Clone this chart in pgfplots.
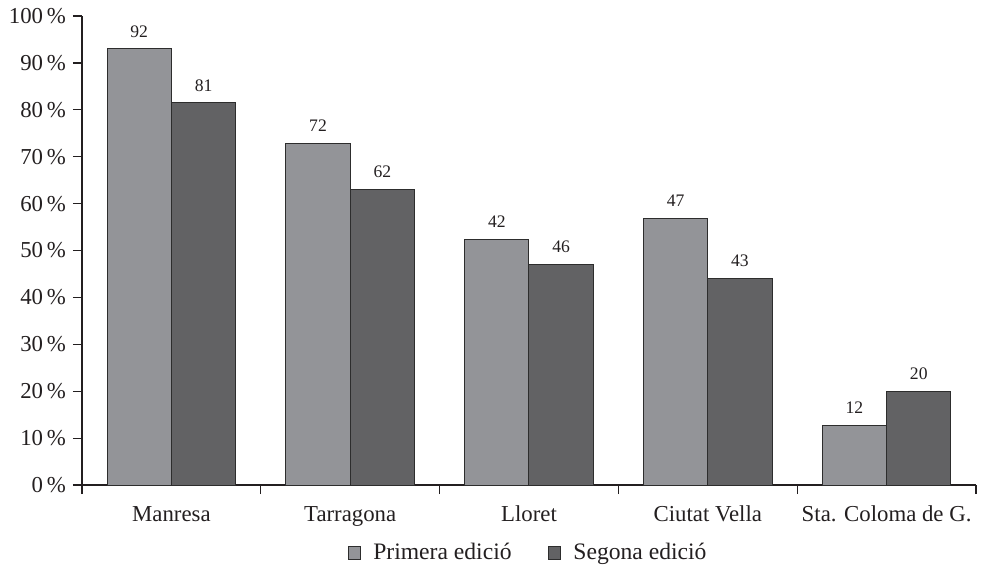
\documentclass[border=0pt]{standalone}
\usepackage{pgfplots}
\pgfplotsset{compat=1.18}
\usepackage{fontspec}
\setmainfont{Liberation Serif}
\definecolor{lightbar}{RGB}{147,148,152}
\definecolor{darkbar}{RGB}{98,98,100}
\definecolor{edge}{RGB}{45,45,45}
\definecolor{txt}{RGB}{35,31,32}
\begin{document}
\begin{tikzpicture}
\useasboundingbox (-41pt,-45pt) rectangle (450pt,242.5pt);
\begin{axis}[
  at={(0,0)}, anchor=south west,
  width=447pt, height=234.5pt, scale only axis,
  xmin=-0.5, xmax=4.5, ymin=0, ymax=100,
  axis x line*=bottom, axis y line*=left,
  axis line style={-, draw=txt, line width=0.6pt},
  tick align=outside, major tick length=4.5pt,
  tick style={draw=txt, line width=0.6pt},
  ytick={0,10,...,100},
  yticklabel={\pgfmathprintnumber{\tick}\,\%},
  /pgf/number format/assume math mode=true,
  ticklabel style={font=\fontsize{11.4}{13}\selectfont, text=txt},
  xtick={-0.5,0.5,1.5,2.5,3.5,4.5},
  xticklabels={},
  extra x ticks={0,1,2,3,4},
  extra x tick labels={Manresa,Tarragona,Lloret,Ciutat Vella,Sta. Coloma de G.},
  extra x tick style={tick style={draw=none}, xticklabel style={yshift=-2.5pt}},
  ybar=0pt,
  bar width=0.36,
  nodes near coords,
  point meta=explicit symbolic,
  every node near coord/.append style={font=\fontsize{8.8}{10}\selectfont, text=txt, yshift=2.2pt},
  legend style={draw=none, at={(0.5,-0.145)}, anchor=center, legend columns=2,
    font=\fontsize{11.8}{13}\selectfont, text=txt,
    /tikz/every odd column/.append style={column sep=4pt},
    /tikz/every even column/.append style={column sep=16pt}},
  legend image code/.code={\draw[#1,draw=edge,line width=0.5pt] (0pt,-3.2pt) rectangle (6.4pt,3.2pt);},
]
\addplot[fill=lightbar, draw=edge, line width=0.5pt, bar shift=-0.18]
  coordinates {(0,93)[92] (1,72.9)[72] (2,52.4)[42] (3,56.9)[47] (4,12.7)[12]};
\addlegendentry{Primera edició}
\addplot[fill=darkbar, draw=edge, line width=0.5pt, bar shift=0.18]
  coordinates {(0,81.5)[81] (1,63)[62] (2,47)[46] (3,44.1)[43] (4,19.9)[20]};
\addlegendentry{Segona edició}
\end{axis}
\end{tikzpicture}
\end{document}
